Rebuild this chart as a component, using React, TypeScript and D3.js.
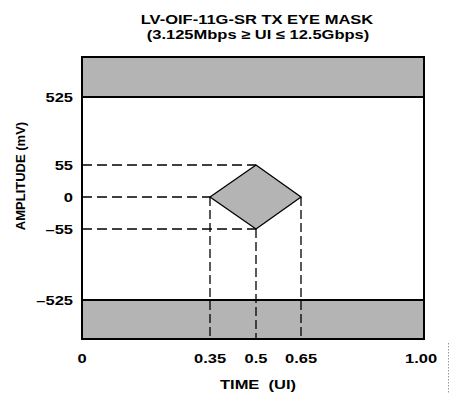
import React from "react";
import * as d3 from "d3";

// ---- data ----
const titleLines = ["LV-OIF-11G-SR TX EYE MASK", "(3.125Mbps \u2265 UI \u2264 12.5Gbps)"];
const xTickValues = [0, 0.35, 0.5, 0.65, 1.0];
const xTickLabels = ["0", "0.35", "0.5", "0.65", "1.00"];
const yTickValues = [525, 55, 0, -55, -525];
const yTickLabels = ["525", "55", "0", "\u201355", "\u2013525"];
const maskOuter = [-800, 800]; // extent of the shaded limit bands
const maskLimits = [-525, 525];
// eye diamond vertices (time UI, amplitude mV)
const eyeTime = [0.35, 0.5, 0.65, 0.5];
const eyeAmp = [0, 55, 0, -55];
const xLabel = "TIME  (UI)";
const yLabel = "AMPLITUDE (mV)";

const W = 450;
const H = 393;
const FONT = "'Liberation Sans', Arial, Helvetica, sans-serif";
const SX = 1.27;
const FS = 13;

// schematic (piecewise) scales
const x = d3.scaleLinear().domain([0, 0.35, 0.5, 0.65, 1.0]).range([82, 210, 256, 301, 424]);
const y = d3
  .scaleLinear()
  .domain([maskOuter[0], maskLimits[0], -55, 0, 55, maskLimits[1], maskOuter[1]])
  .range([339, 300, 229, 197, 165, 97, 57]);

const GRAY = "#b4b4b4";

function T({ x0, y0, anchor = "middle", children }: any) {
  return (
    <text
      transform={`translate(${x0},${y0}) scale(${SX},1)`}
      textAnchor={anchor}
      fontFamily={FONT}
      fontWeight="bold"
      fontSize={FS}
      fill="#000"
      style={{ whiteSpace: "pre" }}
    >
      {children}
    </text>
  );
}

export default function App() {
  const diamond = d3.line<number>()
    .x((_, i) => x(eyeTime[i]))
    .y((_, i) => y(eyeAmp[i]))
    .curve(d3.curveLinearClosed)(eyeTime);

  const dashH = "10,5";
  const dashV = "9,4";
  const x0 = x(0), x1 = x(1);
  const yTop = y(maskOuter[1]), yBot = y(maskOuter[0]);

  const hGuides = [
    { v: 55, t: 0.5 },
    { v: 0, t: 0.35 },
    { v: -55, t: 0.5 },
  ];
  const vGuides = [
    { t: 0.35, v: 0 },
    { t: 0.5, v: -55 },
    { t: 0.65, v: 0 },
  ];

  return (
    <svg width={W} height={H} style={{ position: "absolute", left: 0, top: 0, background: "#fff" }}>
      <rect width={W} height={H} fill="#fff" />
      <T x0={257} y0={24}>{titleLines[0]}</T>
      <T x0={258} y0={39}>{titleLines[1]}</T>

      <rect x={x0} y={yTop} width={x1 - x0} height={y(maskLimits[1]) - yTop} fill={GRAY} />
      <rect x={x0} y={y(maskLimits[0])} width={x1 - x0} height={yBot - y(maskLimits[0])} fill={GRAY} />

      {hGuides.map((g, i) => (
        <line key={"h" + i} x1={x0} x2={x(g.t)} y1={y(g.v)} y2={y(g.v)} stroke="#000" strokeWidth={1.3} strokeDasharray={dashH} />
      ))}
      {vGuides.map((g, i) => (
        <line key={"v" + i} x1={x(g.t)} x2={x(g.t)} y1={y(g.v)} y2={yBot} stroke="#000" strokeWidth={1.3} strokeDasharray={dashV} />
      ))}

      <path d={diamond || ""} fill={GRAY} stroke="#000" strokeWidth={1.3} strokeLinejoin="miter" />

      {maskLimits.map((m, i) => (
        <line key={"m" + i} x1={x0} x2={x1} y1={y(m)} y2={y(m)} stroke="#000" strokeWidth={2} />
      ))}
      <rect x={x0} y={yTop} width={x1 - x0} height={yBot - yTop} fill="none" stroke="#000" strokeWidth={2} />

      {yTickValues.map((v, i) => (
        <T key={"yt" + i} x0={73} y0={y(v) + 4.7} anchor="end">{yTickLabels[i]}</T>
      ))}
      {xTickValues.map((v, i) => (
        <T key={"xt" + i} x0={v === 1 ? x(v) - 3 : x(v)} y0={362.5}>{xTickLabels[i]}</T>
      ))}

      <text
        transform={`translate(${25},${176}) rotate(-90)`}
        textAnchor="middle"
        fontFamily={FONT}
        fontWeight="bold"
        fontSize={FS}
        style={{ whiteSpace: "pre" }}
      >
        {yLabel}
      </text>
      <T x0={258} y0={388.5}>{xLabel}</T>

      <line x1={448.5} x2={448.5} y1={343} y2={393} stroke="#999" strokeWidth={1} strokeDasharray="1.5,1.5" />
    </svg>
  );
}
